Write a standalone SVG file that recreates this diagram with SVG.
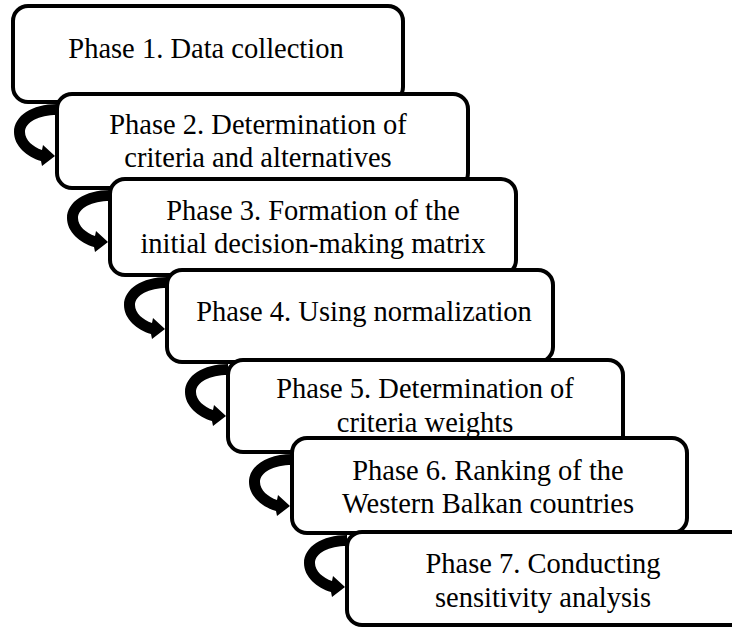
<svg xmlns="http://www.w3.org/2000/svg" xmlns:xlink="http://www.w3.org/1999/xlink" width="732" height="627" viewBox="0 0 732 627">
<style>
.box{fill:#fff;stroke:#000;stroke-width:4}
.t{font-family:"Liberation Serif","Times New Roman",serif;font-size:28.5px;fill:#000;text-anchor:middle}
.arr{fill:#000;stroke:none}
</style>
<defs>
<path id="curl" d="M0,2 C-25,2 -43,14 -43,30 C-43,44 -30,55 -16,59 L-15,64 L-2,54 L-14,43 L-15,48 C-24,45 -32,38 -32,30 C-32,20 -18,13 0,13 Z"/>
</defs>
<rect width="732" height="627" fill="#fff"/>
<g id="phase1"><rect class="box" x="13" y="6" width="390" height="96" rx="15"/><text class="t" x="206" y="58">Phase 1. Data collection</text></g>
<g id="phase2"><rect class="box" x="57" y="94" width="411" height="94" rx="15"/><text class="t" x="258" y="134">Phase 2. Determination of</text><text class="t" x="258" y="167">criteria and alternatives</text></g>
<g id="phase3"><rect class="box" x="110" y="179" width="406" height="96" rx="15"/><text class="t" x="313" y="220">Phase 3. Formation of the</text><text class="t" x="313" y="253">initial decision-making matrix</text></g>
<g id="phase4"><rect class="box" x="167" y="270" width="386" height="92" rx="15"/><text class="t" x="364" y="321">Phase 4. Using normalization</text></g>
<g id="phase5"><rect class="box" x="228" y="360" width="395" height="92" rx="15"/><text class="t" x="425" y="398">Phase 5. Determination of</text><text class="t" x="425" y="432">criteria weights</text></g>
<g id="phase6"><rect class="box" x="292" y="438" width="395" height="95" rx="15"/><text class="t" x="488" y="480">Phase 6. Ranking of the</text><text class="t" x="488" y="513">Western Balkan countries</text></g>
<g id="phase7"><rect class="box" x="347" y="532" width="400" height="93" rx="15"/><text class="t" x="543" y="573">Phase 7. Conducting</text><text class="t" x="543" y="607">sensitivity analysis</text></g>
<g id="connectors" class="arr">
<use xlink:href="#curl" href="#curl" transform="translate(57,102)"/>
<use xlink:href="#curl" href="#curl" transform="translate(110,188)"/>
<use xlink:href="#curl" href="#curl" transform="translate(167,275)"/>
<use xlink:href="#curl" href="#curl" transform="translate(228,362)"/>
<use xlink:href="#curl" href="#curl" transform="translate(292,452)"/>
<use xlink:href="#curl" href="#curl" transform="translate(347,533)"/>
</g>
</svg>
